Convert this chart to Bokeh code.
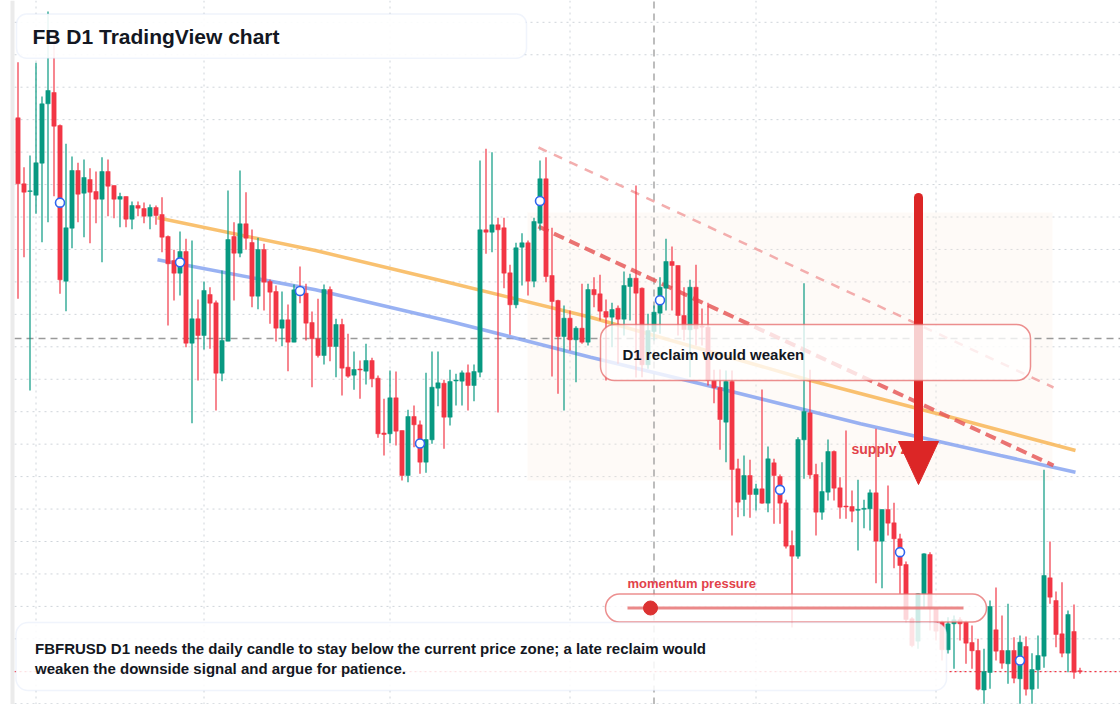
import numpy as np
from bokeh.plotting import figure
from bokeh.models import Range1d, BoxAnnotation, Label, ColumnDataSource
from bokeh.core.properties import value
from bokeh.embed import file_html
from bokeh.resources import INLINE

# ---------------- data (daily candles) ----------------
opens = [88.27, 81.67, 80.90, 80.53, 83.73, 89.67, 90.80, 87.50, 71.93, 77.23,
         83.00, 80.73, 82.10, 80.90, 80.13, 82.90, 81.50, 80.13, 80.40, 78.13,
         79.50, 79.20, 78.43, 79.30, 78.60, 76.40, 74.00, 72.73, 74.90, 65.73,
         68.17, 66.50, 70.60, 69.77, 62.73, 65.93, 76.40, 74.73, 77.67, 75.80,
         70.43, 75.10, 71.90, 70.90, 67.23, 68.07, 65.83, 71.30, 70.73, 67.80,
         66.17, 64.50, 71.10, 65.40, 67.60, 63.33, 62.53, 63.15, 62.93, 64.00,
         62.23, 56.75, 56.67, 60.27, 57.00, 52.50, 58.40, 57.57, 53.83, 56.07,
         61.23, 61.73, 58.33, 61.95, 61.93, 62.77, 61.50, 62.83, 77.07, 76.83,
         77.57, 77.27, 72.77, 69.57, 75.33, 75.77, 71.93, 77.73, 82.17, 72.50,
         70.00, 66.40, 68.23, 66.07, 67.23, 65.83, 71.10, 70.67, 68.90, 68.33,
         69.23, 68.13, 71.40, 72.23, 71.23, 63.57, 66.90, 68.73, 71.23, 73.90,
         73.50, 68.50, 67.07, 71.33, 67.43, 67.33, 62.00, 61.30, 57.83, 61.90,
         53.17, 50.10, 52.50, 50.60, 51.17, 49.73, 53.77, 52.40, 49.77, 45.50,
         44.43, 56.07, 58.77, 52.60, 48.83, 50.83, 54.90, 51.27, 49.45, 49.40,
         49.02, 49.12, 49.17, 50.77, 45.93, 49.10, 47.77, 46.17, 43.60, 38.17,
         35.93, 40.67, 44.60, 39.17, 37.83, 35.07, 37.67, 38.07, 37.83, 35.80,
         35.00, 31.05, 32.80, 37.07, 35.00, 33.67, 35.00, 32.17, 35.40, 31.13,
         33.07, 34.43, 42.27, 40.00, 36.67, 34.73, 36.90, 32.98]
highs = [93.83, 83.33, 84.50, 93.77, 90.40, 98.90, 96.50, 87.60, 85.67, 84.40,
         83.77, 84.10, 83.23, 82.90, 84.33, 84.10, 81.50, 80.77, 80.40, 79.90,
         79.90, 79.80, 79.60, 79.50, 80.33, 76.50, 75.07, 76.90, 76.17, 76.00,
         70.10, 71.90, 71.33, 70.00, 73.00, 81.00, 77.83, 83.00, 80.83, 77.10,
         76.27, 75.67, 72.10, 71.50, 70.90, 69.60, 71.60, 73.40, 71.67, 68.90,
         70.17, 71.60, 71.40, 68.17, 68.17, 66.67, 64.90, 64.00, 65.67, 64.27,
         62.50, 60.17, 63.00, 62.90, 57.00, 59.07, 59.50, 58.00, 62.77, 64.90,
         64.90, 62.07, 63.07, 62.67, 63.00, 63.60, 63.60, 84.00, 85.17, 84.83,
         78.27, 78.27, 73.57, 75.77, 76.73, 76.00, 78.27, 84.00, 84.33, 77.27,
         70.07, 69.50, 69.00, 67.43, 71.67, 71.67, 72.33, 72.57, 70.10, 69.77,
         69.50, 72.90, 72.67, 81.50, 71.30, 68.67, 69.50, 72.33, 76.17, 75.40,
         73.50, 71.33, 72.07, 73.57, 69.20, 69.77, 63.07, 63.10, 63.00, 63.00,
         54.17, 54.50, 54.07, 51.67, 61.10, 55.40, 54.17, 52.60, 50.07, 47.00,
         56.33, 71.73, 63.07, 53.67, 53.83, 56.10, 55.00, 52.33, 57.00, 51.00,
         52.07, 50.07, 51.10, 57.17, 49.10, 51.50, 49.77, 46.67, 43.90, 38.33,
         40.70, 44.73, 44.83, 39.20, 38.00, 38.33, 38.50, 38.33, 38.00, 37.50,
         36.17, 35.17, 40.00, 41.30, 38.50, 39.67, 36.33, 36.50, 36.40, 34.73,
         36.50, 53.07, 45.90, 40.90, 41.83, 39.00, 39.60, 33.27]
lows = [70.17, 74.33, 61.00, 78.67, 75.83, 77.83, 80.43, 70.67, 68.93, 75.23,
        77.83, 76.33, 75.73, 77.73, 73.83, 78.43, 78.23, 77.33, 77.33, 77.13,
        78.43, 77.73, 77.13, 77.57, 74.83, 67.50, 70.00, 70.50, 65.33, 57.73,
        62.00, 65.10, 65.17, 59.00, 61.93, 65.93, 70.00, 74.33, 75.07, 69.33,
        69.13, 69.00, 67.67, 65.90, 65.43, 62.93, 65.83, 69.73, 66.00, 61.33,
        64.30, 63.60, 63.93, 62.33, 60.50, 62.27, 61.07, 60.17, 61.60, 61.33,
        56.27, 54.50, 55.73, 55.50, 52.00, 51.83, 55.33, 52.67, 52.77, 55.67,
        59.43, 55.17, 57.50, 59.50, 59.50, 59.00, 59.93, 62.33, 74.67, 74.83,
        58.80, 71.23, 66.57, 69.23, 71.50, 70.50, 71.33, 77.00, 71.83, 62.40,
        60.67, 59.00, 65.00, 61.83, 65.67, 65.50, 69.33, 68.00, 62.00, 65.33,
        63.67, 66.50, 68.00, 62.30, 62.33, 63.17, 66.00, 66.67, 69.00, 69.00,
        66.50, 66.00, 62.33, 65.50, 65.50, 61.50, 59.73, 55.07, 53.83, 46.50,
        48.33, 48.43, 48.27, 49.00, 49.67, 48.83, 47.67, 47.67, 45.20, 37.30,
        44.17, 52.17, 52.17, 46.50, 48.07, 50.00, 50.00, 48.17, 48.17, 47.83,
        45.00, 47.23, 47.00, 41.73, 41.23, 46.50, 43.23, 40.67, 37.80, 35.33,
        35.17, 39.17, 37.00, 36.00, 34.00, 34.70, 33.17, 36.00, 33.67, 33.17,
        31.00, 29.67, 31.17, 34.00, 33.17, 31.67, 31.73, 29.67, 30.50, 29.67,
        31.17, 33.27, 39.67, 35.33, 34.33, 32.83, 32.17, 32.67]
closes = [81.67, 80.83, 80.97, 83.77, 89.67, 91.00, 87.43, 72.07, 77.27, 83.00,
          80.63, 82.30, 80.83, 80.13, 82.90, 81.43, 80.13, 80.40, 78.13, 79.50,
          79.23, 78.43, 79.30, 78.50, 76.33, 73.67, 72.73, 74.90, 65.73, 68.17,
          66.50, 71.00, 69.73, 62.73, 66.00, 76.10, 74.73, 77.67, 76.23, 70.43,
          75.10, 71.83, 70.83, 67.23, 68.07, 65.83, 71.07, 70.60, 67.73, 66.17,
          64.50, 71.10, 65.40, 67.60, 63.23, 62.43, 63.10, 63.05, 64.00, 62.17,
          56.67, 56.60, 60.27, 56.93, 52.50, 58.40, 57.57, 53.83, 56.10, 61.33,
          61.77, 58.33, 61.90, 62.05, 62.77, 61.50, 62.90, 77.07, 76.83, 77.57,
          77.07, 72.73, 69.57, 75.27, 75.77, 71.93, 77.90, 82.17, 72.40, 69.90,
          66.40, 68.23, 66.07, 67.23, 65.83, 71.10, 70.57, 68.93, 68.33, 69.10,
          68.13, 71.50, 72.23, 70.73, 63.57, 67.00, 68.83, 71.33, 73.90, 73.50,
          68.50, 67.10, 71.33, 67.17, 67.33, 62.00, 61.27, 58.10, 61.90, 53.10,
          49.83, 52.50, 50.60, 51.17, 49.73, 54.17, 52.50, 49.73, 45.43, 44.43,
          56.10, 58.90, 52.57, 48.83, 50.90, 54.90, 51.23, 49.33, 49.35, 48.93,
          49.12, 49.22, 50.77, 45.93, 49.10, 47.73, 46.17, 43.50, 38.10, 35.50,
          40.67, 44.67, 39.17, 36.93, 35.07, 37.67, 38.07, 37.67, 35.73, 34.97,
          31.13, 32.90, 39.40, 34.93, 33.73, 35.00, 32.23, 35.83, 31.13, 33.10,
          34.50, 42.50, 40.33, 36.60, 34.73, 38.60, 32.83, 32.88]

# month-start candle indices (vertical grid)
month_starts = [3, 31, 62, 92, 123, 153]
# pivot markers every 20 candles (drawn at body midpoint)
marker_idx = [7, 27, 47, 67, 87, 107, 127, 147, 167]

# trend lines (candle index, price)
ma_fast_x = [23.25, 49.58, 70.42, 95.42, 132.08, 157.58, 176.25]
ma_fast_y = [78.27, 75.00, 72.00, 68.33, 62.00, 58.00, 55.00]
ma_slow_x = [23.25, 49.58, 72.08, 95.42, 113.75, 140.42, 163.75, 176.25]
ma_slow_y = [74.07, 71.07, 67.90, 64.33, 61.67, 57.67, 54.50, 52.83]
res_x = [86.75, 172.58]
res_y = [77.40, 53.50]
res_outer_x = [86.75, 172.58]
res_outer_y = [85.30, 61.30]

cross_idx = 106
cross_price = 66.2

title_text = "FB D1 TradingView chart"
note_lines = ["FBFRUSD D1 needs the daily candle to stay below the current price zone; a late reclaim would",
              "weaken the downside signal and argue for patience."]
reclaim_text = "D1 reclaim would weaken"
supply_text = "supply zone"
momentum_text = "momentum pressure"

# ---------------- layout helpers ----------------
W, H = 1120, 704
X0, DX = 17.5, 6.0
P_TOP, P_PX = 100.0, 0.1

def X(px):
    return (px - X0) / DX

def Y(py):
    return P_TOP - py * P_PX

GREEN = "#089981"
RED = "#F23645"
FONT = "Liberation Sans"

n = len(opens)
idx = np.arange(n)
o = np.array(opens); c = np.array(closes); hi = np.array(highs); lo = np.array(lows)
up = c >= o
src = ColumnDataSource(dict(
    x=idx, top=np.maximum(o, c), bottom=np.minimum(o, c), high=hi, low=lo,
    color=[GREEN if u else RED for u in up]))

p = figure(width=W, height=H, x_range=Range1d(X(0), X(W)), y_range=Range1d(Y(H), Y(0)),
           output_backend="svg", toolbar_location=None,
           x_axis_location=None, y_axis_location=None, min_border=0)
p.outline_line_color = None
p.background_fill_color = "white"
p.border_fill_color = "white"
p.xgrid.visible = False
p.ygrid.visible = False

# grid (dotted)
grid_levels = [Y(21.8 + 32.45 * m) for m in range(22)]
p.segment(x0=[X(14)] * len(grid_levels), y0=grid_levels, x1=[X(W)] * len(grid_levels), y1=grid_levels,
          line_color="#cfd4da", line_dash="2 4", line_width=1, level="underlay")
p.segment(x0=month_starts, y0=[Y(H)] * len(month_starts), x1=month_starts, y1=[Y(0)] * len(month_starts),
          line_color="#cfd4da", line_dash="2 4", line_width=1, level="underlay")

# supply zone shading
p.quad(left=[X(527)], right=[X(1052)], top=[Y(212)], bottom=[Y(480)],
       fill_color="#fbece2", fill_alpha=0.28, line_color=None)

# crosshair
p.line([X(14), X(W)], [cross_price, cross_price], line_color="#9a9a9a", line_dash="7 5", line_width=1.3)
p.line([cross_idx, cross_idx], [Y(H), Y(0)], line_color="#9a9a9a", line_dash="7 5", line_width=1.3)

# trend lines
p.line(ma_fast_x, ma_fast_y, line_color="#f8b24c", line_alpha=0.8, line_width=3.5)
p.line(ma_slow_x, ma_slow_y, line_color="#7f9ff0", line_alpha=0.8, line_width=3.5)
p.line(res_outer_x, res_outer_y, line_color="#f09a9a", line_alpha=0.8, line_width=2.5, line_dash="9 8")
p.line(res_x, res_y, line_color="#e65a5a", line_alpha=0.85, line_width=4, line_dash="11 6")

# last price
p.line([X(14), X(W)], [closes[-1], closes[-1]], line_color=RED, line_dash="2 3", line_width=1.2)

# candles
p.segment(x0="x", y0="low", x1="x", y1="high", line_color="color", line_width=1.2, source=src)
p.vbar(x="x", top="top", bottom="bottom", width=0.72, fill_color="color", line_color="color",
       line_width=0.5, source=src)

# pivot markers
mx = marker_idx
my = [(opens[i] + closes[i]) / 2 for i in mx]
p.scatter(mx, my, size=9, fill_color="white", line_color="#2f66f0", line_width=1.6)

# supply zone label and arrow
p.text([X(851)], [Y(448)], text=[supply_text], text_font=value(FONT), text_font_style="bold",
       text_font_size="14px", text_color="#e2424a", text_baseline="middle", text_align="left")
ax = X(918)
p.segment(x0=[ax], y0=[Y(197)], x1=[ax], y1=[Y(446)], line_color="#dc2626", line_width=9, line_cap="round")
p.patch([X(898), X(938), ax], [Y(441), Y(441), Y(484)], fill_color="#dc2626", line_color="#dc2626")

# left border strip
p.add_layout(BoxAnnotation(left=X(0), right=X(10), top=Y(0), bottom=Y(H), fill_color="white",
                           fill_alpha=1, line_color=None))
p.add_layout(BoxAnnotation(left=X(10), right=X(14), top=Y(0), bottom=Y(H), fill_color="#ebebeb",
                           fill_alpha=1, line_color=None))

# callout boxes
p.add_layout(BoxAnnotation(left=X(600), right=X(1030), top=Y(324), bottom=Y(380), fill_color="white",
                           fill_alpha=0.78, line_color="#e56a6a", line_alpha=0.75, line_width=1.5,
                           border_radius=14))
p.add_layout(BoxAnnotation(left=X(605), right=X(986), top=Y(593.5), bottom=Y(621.5), fill_color="white",
                           fill_alpha=0.8, line_color="#e56a6a", line_alpha=0.75, line_width=1.5,
                           border_radius=14))
p.add_layout(BoxAnnotation(left=X(15.5), right=X(946), top=Y(622), bottom=Y(690), fill_color="white",
                           fill_alpha=0.86, line_color="#cddbf4", line_width=1.5, border_radius=12))
p.add_layout(BoxAnnotation(left=X(16), right=X(526), top=Y(13.5), bottom=Y(57.7), fill_color="white",
                           fill_alpha=0.9, line_color="#cddbf4", line_width=1.5, border_radius=10))

# momentum gauge
p.line([X(627), X(963)], [Y(607.5), Y(607.5)], line_color="#e97c7c", line_width=3, line_alpha=0.9,
       level="overlay")
p.scatter([X(650)], [Y(607.5)], size=14, fill_color="#dc3232", line_color="#dc3232", level="overlay")

# texts
p.add_layout(Label(x=X(32), y=Y(36), text=title_text, text_font=FONT, text_font_style="bold",
                   text_font_size="21px", text_color="#131722", text_baseline="middle"))
p.add_layout(Label(x=X(622), y=Y(353.5), text=reclaim_text, text_font=FONT, text_font_style="bold",
                   text_font_size="15px", text_color="#131722", text_baseline="middle"))
p.add_layout(Label(x=X(627), y=Y(582.5), text=momentum_text, text_font=FONT, text_font_style="bold",
                   text_font_size="13px", text_color="#e2424a", text_baseline="middle"))
for k, line in enumerate(note_lines):
    p.add_layout(Label(x=X(34.5), y=Y(648 + 20 * k), text=line, text_font=FONT, text_font_style="bold",
                       text_font_size="15px", text_color="#131722", text_baseline="middle"))

open("out.html", "w").write(file_html(p, INLINE))
